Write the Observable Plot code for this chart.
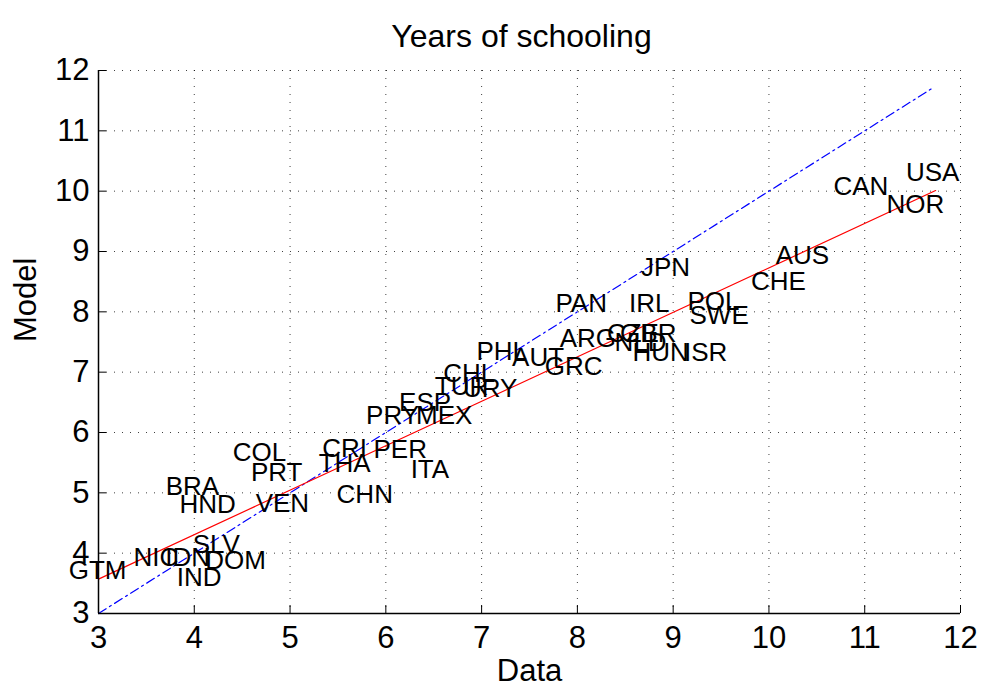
<!DOCTYPE html>
<html>
<head>
<meta charset="utf-8">
<script src="https://cdn.jsdelivr.net/npm/d3@7"></script>
<script src="https://cdn.jsdelivr.net/npm/@observablehq/plot@0.6"></script>
<style>
  html, body { margin: 0; padding: 0; background: #fff; }
</style>
</head>
<body>
<div id="chart"></div>
<script>
const countries = ["GTM","NIC","IDN","DOM","IND","SLV","BRA","HND","PRT","VEN","COL","CRI","THA","PER","ITA","CHN","PRY","MEX","ESP","CHL","TUR","URY","PHL","AUT","GRC","ARG","CZE","GBR","NLD","HUN","ISR","PAN","IRL","JPN","POL","SWE","CHE","AUS","CAN","USA","NOR"];
const dataValues = [2.99,3.60,3.93,4.43,4.05,4.23,3.98,4.14,4.86,4.92,4.68,5.57,5.57,6.15,6.46,5.78,6.07,6.61,6.41,6.87,6.79,7.09,7.21,7.59,7.96,8.11,8.58,8.74,8.66,8.87,9.34,8.04,8.75,8.92,9.42,9.48,10.10,10.35,10.96,11.71,11.53];
const modelValues = [3.71,3.93,3.93,3.88,3.60,4.14,5.11,4.81,5.34,4.82,5.67,5.73,5.49,5.72,5.39,4.97,6.28,6.28,6.50,6.98,6.76,6.73,7.34,7.24,7.09,7.56,7.64,7.64,7.49,7.33,7.33,8.14,8.14,8.74,8.17,7.94,8.50,8.93,10.08,10.31,9.78];
const fitX = [3.0, 11.74];
const fitY = [3.57, 10.01];
const diagX = [3.0, 11.7];
const diagY = [3.0, 11.7];
const ticks = [3,4,5,6,7,8,9,10,11,12];
const titleText = "Years of schooling";
const xLabel = "Data";
const yLabel = "Model";

const points = countries.map((c, i) => ({c, x: dataValues[i], y: modelValues[i]}));
const fit = fitX.map((x, i) => ({x, y: fitY[i]}));
const diag = diagX.map((x, i) => ({x, y: diagY[i]}));
const font = "'Liberation Sans', Arial, Helvetica, sans-serif";

const chart = Plot.plot({
  width: 981,
  height: 692,
  marginLeft: 98,
  marginRight: 21,
  marginTop: 70,
  marginBottom: 79,
  x: {domain: [3, 12]},
  y: {domain: [3, 12]},
  style: {fontFamily: font, background: "#fff", color: "#000"},
  marks: [
    Plot.gridX(ticks.slice(1), {stroke: "#000", strokeOpacity: 0.75, strokeDasharray: "1,7"}),
    Plot.gridY(ticks.slice(1), {stroke: "#000", strokeOpacity: 0.75, strokeDasharray: "1,7"}),
    Plot.line(diag, {x: "x", y: "y", stroke: "#0000ff", strokeWidth: 1.2, strokeDasharray: "9,4,2,4"}),
    Plot.line(fit, {x: "x", y: "y", stroke: "#ff0000", strokeWidth: 1.2}),
    Plot.text(points, {x: "x", y: "y", text: "c", fontSize: 26, fill: "#000", textAnchor: "middle", lineAnchor: "middle"}),
    Plot.ruleX([3], {stroke: "#000", strokeWidth: 1.5}),
    Plot.ruleY([3], {stroke: "#000", strokeWidth: 1.5}),
    Plot.axisX(ticks, {tickSize: -8, tickPadding: 20, fontSize: 31, tickFormat: d => String(d), label: null, stroke: "#000"}),
    Plot.axisY(ticks, {tickSize: -8, tickPadding: 17, fontSize: 31, tickFormat: d => String(d), label: null, stroke: "#000"}),
    Plot.text([titleText], {frameAnchor: "top", dy: -46, dx: -8, fontSize: 32, fill: "#000"}),
    Plot.text([xLabel], {frameAnchor: "bottom", dy: 67, fontSize: 31, fill: "#000"}),
    Plot.text([yLabel], {frameAnchor: "left", dx: -72, rotate: -90, fontSize: 31, fill: "#000"})
  ]
});
document.getElementById("chart").appendChild(chart);
</script>
</body>
</html>
